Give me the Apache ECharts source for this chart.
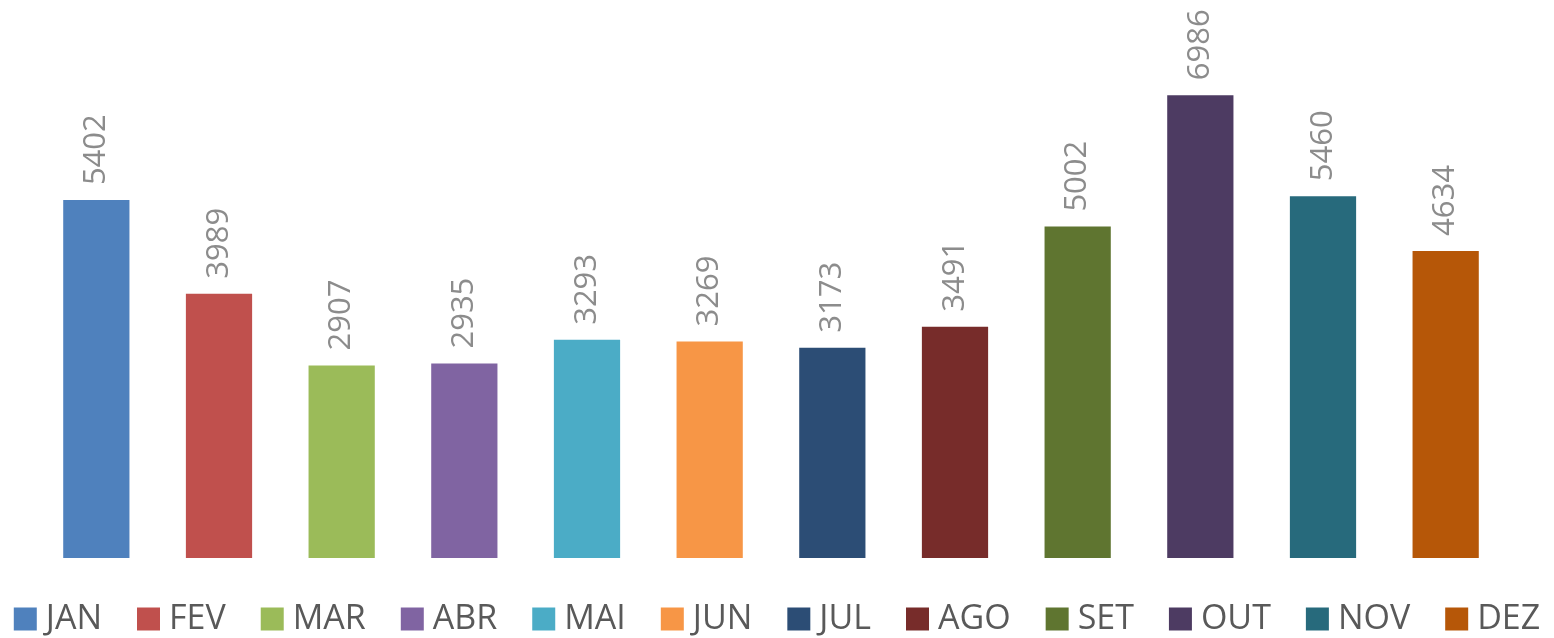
<!DOCTYPE html>
<html>
<head>
<meta charset="utf-8">
<script src="https://cdn.jsdelivr.net/npm/echarts@6/dist/echarts.min.js"></script>
<style>
html, body { margin: 0; padding: 0; background: #fff; }
#chart { width: 1554px; height: 638px; }
</style>
</head>
<body>
<div id="chart"></div>
<script>
var months = ['JAN', 'FEV', 'MAR', 'ABR', 'MAI', 'JUN', 'JUL', 'AGO', 'SET', 'OUT', 'NOV', 'DEZ']
var values = [5402, 3989, 2907, 2935, 3293, 3269, 3173, 3491, 5002, 6986, 5460, 4634]
var colors = ['#4F81BD', '#C0504D', '#9BBB59', '#8064A2', '#4BACC6', '#F79646',
              '#2C4D75', '#772C2A', '#5F7530', '#4D3B62', '#276A7C', '#B65708']

var font = "'Open Sans', sans-serif"
var mychart = echarts.init(document.getElementById('chart'))

// one series per month so the legend shows every month
var series = months.map(function (m, i) {
  return {
    name: m,
    type: 'bar',
    stack: 'all',
    barWidth: '54%',
    itemStyle: { color: colors[i] },
    label: {
      show: true,
      position: 'top',
      rotate: 90,
      align: 'left',
      verticalAlign: 'middle',
      distance: 15,
      color: '#8C8C8C',
      fontSize: 31,
      fontFamily: font
    },
    data: values.map(function (v, j) { return j === i ? v : '-' })
  }
})

var option = {
  backgroundColor: '#fff',
  animation: false,
  grid: { left: 35, right: 47, top: 28, bottom: 80 },
  legend: {
    top: 602,
    left: 'center',
    padding: 0,
    icon: 'rect',
    itemWidth: 23,
    itemHeight: 23,
    itemGap: 35,
    textStyle: {
      color: '#595959',
      fontSize: 34,
      lineHeight: 23,
      padding: [0, 0, 0, 4],
      fontFamily: font
    },
    data: months
  },
  xAxis: {
    type: 'category',
    data: months,
    axisLine: { show: false },
    axisTick: { show: false },
    axisLabel: { show: false }
  },
  yAxis: {
    type: 'value',
    min: 0,
    max: 8000,
    show: false,
    splitLine: { show: false }
  },
  series: series
}
mychart.setOption(option)
</script>
</body>
</html>
